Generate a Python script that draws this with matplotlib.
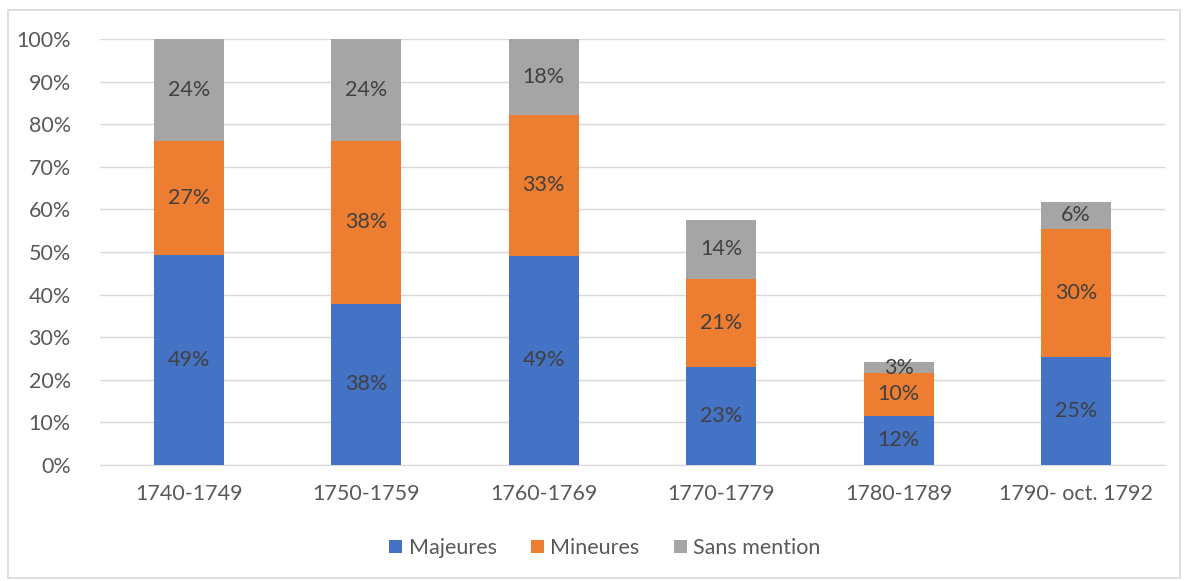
import numpy as np
import matplotlib.pyplot as plt
from matplotlib.patches import Rectangle

plt.rcParams['font.family'] = ['Lato', 'DejaVu Sans']

# Data (shares in %)
periods = ['1740-1749', '1750-1759', '1760-1769', '1770-1779', '1780-1789', '1790- oct. 1792']
majeures = [49.3, 37.8, 49.1, 23.0, 11.6, 25.4]
mineures = [26.8, 38.3, 33.1, 20.7, 9.9, 30.1]
sans_mention = [23.9, 23.9, 17.8, 13.8, 2.7, 6.2]
series_names = ['Majeures', 'Mineures', 'Sans mention']
colors = ['#4472C4', '#ED7D31', '#A5A5A5']
yticks = [0, 10, 20, 30, 40, 50, 60, 70, 80, 90, 100]

fig = plt.figure(figsize=(11.9, 5.81), dpi=100)
ax = fig.add_axes([100/1190, 1 - 465/581, 1065/1190, 426/581])

# outer chart frame
fig.patches.append(Rectangle((8/1190, 3/581), 1172/1190, 568/581, transform=fig.transFigure,
                             fill=False, edgecolor='#D9D9D9', linewidth=1.2))

x = np.arange(len(periods))
bottom = np.zeros(len(periods))
for name, vals, c in zip(series_names, [majeures, mineures, sans_mention], colors):
    vals = np.array(vals)
    ax.bar(x, vals, width=0.395, bottom=bottom, color=c, label=name, zorder=3)
    for xi, b, v in zip(x, bottom, vals):
        ax.text(xi, b + v / 2, f'{round(v):.0f}%', ha='center', va='center',
                fontsize=15.5, color='#404040', zorder=4)
    bottom += vals

ax.set_xlim(-0.5, len(periods) - 0.5)
ax.set_ylim(0, 100)
ax.set_yticks(yticks)
ax.set_yticklabels([f'{t}%' for t in yticks])
ax.set_xticks(x)
ax.set_xticklabels(periods)
ax.tick_params(axis='both', length=0, labelsize=15.5, labelcolor='#595959')
ax.tick_params(axis='y', pad=21)
ax.tick_params(axis='x', pad=14)
ax.grid(axis='y', color='#D9D9D9', linewidth=1, zorder=0)
for s in ['top', 'right', 'left']:
    ax.spines[s].set_visible(False)
ax.spines['bottom'].set_color('#D9D9D9')

fig.legend(loc='center', bbox_to_anchor=(605/1190, 1 - 548/581), ncol=3, frameon=False,
           fontsize=15.5, labelcolor='#595959', handlelength=0.6, handleheight=0.6,
           handletextpad=0.3, columnspacing=1.6)

fig.savefig('out.png', dpi=100)
